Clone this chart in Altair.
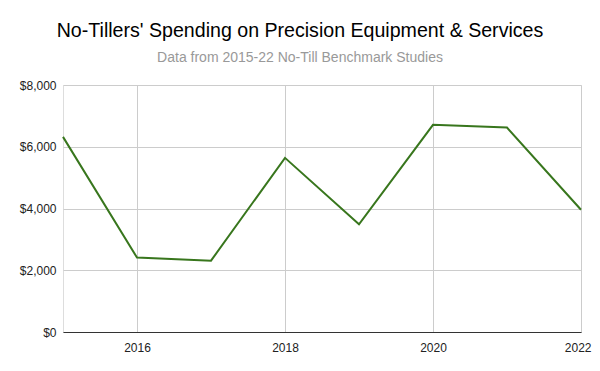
import altair as alt
import pandas as pd

years = [2015, 2016, 2017, 2018, 2019, 2020, 2021, 2022]
spending = [6320, 2410, 2310, 5640, 3490, 6710, 6620, 3960]

x_ticks = [2016, 2018, 2020, 2022]
y_ticks = [0, 2000, 4000, 6000, 8000]

df = pd.DataFrame({"year": years, "spending": spending})

FONT = "Liberation Sans"

chart = (
    alt.Chart(df)
    .mark_line(color="#38761d", strokeWidth=2)
    .encode(
        x=alt.X(
            "year:Q",
            scale=alt.Scale(domain=[2015, 2022], nice=False, zero=False),
            axis=alt.Axis(
                title=None,
                values=x_ticks,
                format="d",
                grid=True,
                gridColor="#cccccc",
                domain=True,
                domainColor="#333333",
                ticks=False,
                labelPadding=10,
                labelFont=FONT,
                labelFontSize=12,
                labelColor="#222222",
                labelFlush=True,
                labelFlushOffset=10,
            ),
        ),
        y=alt.Y(
            "spending:Q",
            scale=alt.Scale(domain=[0, 8000], nice=False),
            axis=alt.Axis(
                title=None,
                values=y_ticks,
                format="$,.0f",
                grid=True,
                gridColor="#cccccc",
                domain=False,
                ticks=False,
                labelPadding=7,
                labelFont=FONT,
                labelFontSize=12,
                labelColor="#222222",
            ),
        ),
    )
    .properties(
        width=518,
        height=247,
        autosize=alt.AutoSizeParams(type="none"),
        padding={"left": 55, "top": 77, "right": 11, "bottom": 30},
        title=alt.TitleParams(
            text="No-Tillers' Spending on Precision Equipment & Services",
            subtitle="Data from 2015-22 No-Till Benchmark Studies",
            font=FONT,
            fontSize=19.6,
            fontWeight="normal",
            color="#000000",
            subtitleFont=FONT,
            subtitleFontSize=14,
            subtitleColor="#999999",
            subtitlePadding=9,
            anchor="middle",
            dx=-22,
            offset=13,
        ),
    )
    .configure_view(stroke=None)
    .configure(background="white")
)

chart.save("out.html", embed_options={"renderer": "svg", "actions": False})
